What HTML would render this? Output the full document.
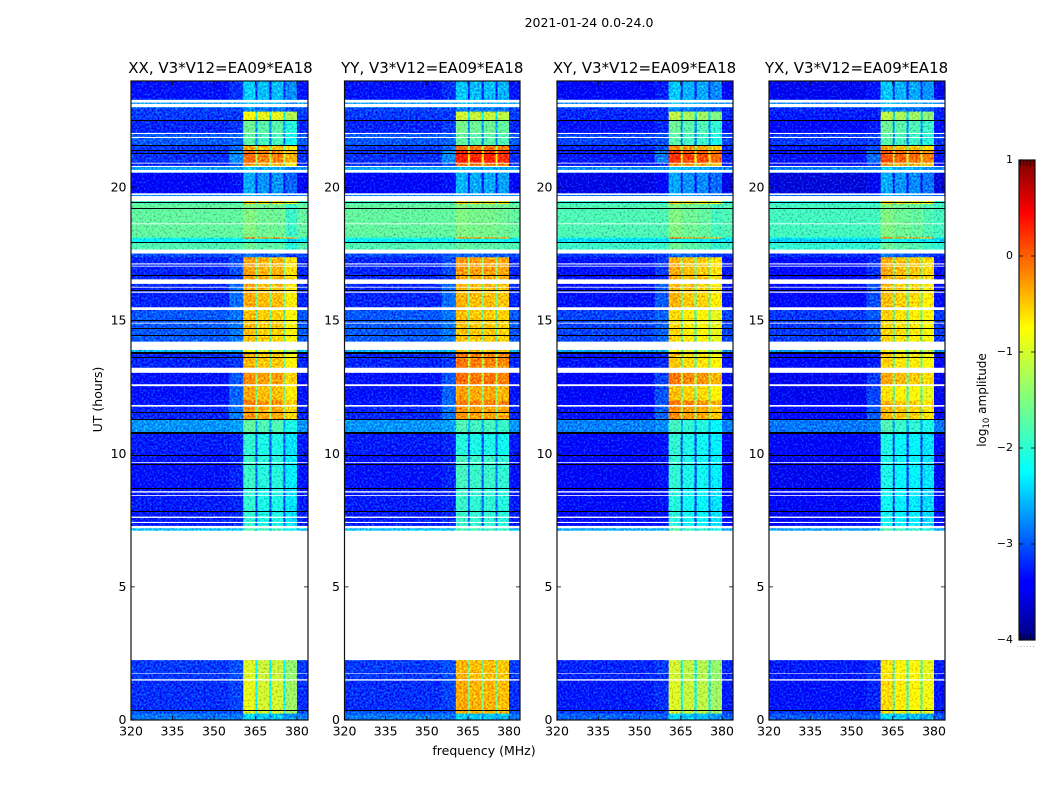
<!DOCTYPE html>
<html lang="en">
<head>
<meta charset="utf-8">
<title>2021-01-24 amplitude waterfall</title>
<style>
html,body{margin:0;padding:0;background:#fff;width:1050px;height:800px;overflow:hidden}
svg{display:block;font-family:"DejaVu Sans","Liberation Sans",sans-serif;fill:#000}
</style>
</head>
<body>
<svg id="figure" xmlns="http://www.w3.org/2000/svg" width="1050" height="800" viewBox="0 0 1050 800">
<defs>
<filter id="speckle" x="0" y="0" width="100%" height="100%" color-interpolation-filters="sRGB">
<feTurbulence type="fractalNoise" baseFrequency="0.5" numOctaves="1" seed="5" result="noise"/>
<feColorMatrix in="noise" type="matrix" values="0 0 0 0.3 0.35 0 0 0 1 0 0 0 0 0.3 0.35 0 0 0 0 1" result="grey"/>
<feComposite in="SourceGraphic" in2="grey" operator="arithmetic" k1="0" k2="1" k3="1" k4="-0.5"/>
</filter>
<linearGradient id="jet-gradient" x1="0" y1="1" x2="0" y2="0">
<stop offset="0" stop-color="#00007f"/><stop offset="0.11" stop-color="#0000ff"/><stop offset="0.125" stop-color="#0000ff"/>
<stop offset="0.35" stop-color="#00ffff"/><stop offset="0.5" stop-color="#7fff7f"/><stop offset="0.65" stop-color="#ffff00"/>
<stop offset="0.89" stop-color="#ff0000"/><stop offset="1" stop-color="#7f0000"/>
</linearGradient>
</defs>
<text x="589" y="27" font-size="12.5" text-anchor="middle">2021-01-24 0.0-24.0</text>
<text x="484" y="755" font-size="12.5" text-anchor="middle">frequency (MHz)</text>
<text transform="translate(102,399.5) rotate(-90)" font-size="12.5" text-anchor="middle">UT (hours)</text>
<g id="panels"></g>
<g id="colorbar">
<rect x="1019" y="160" width="16" height="480" fill="url(#jet-gradient)" stroke="#111" stroke-width="1.2"/>
<text transform="translate(986,400) rotate(-90)" font-size="12" text-anchor="middle">log<tspan font-size="8.5" dy="3">10</tspan><tspan dy="-3"> amplitude</tspan></text>
<text x="1026" y="647" font-size="8" fill="#999" text-anchor="middle" letter-spacing="0.6">......</text>
</g>
</svg>
<script>
// Panel names
const panelTitles = ["XX, V3*V12=EA09*EA18", "YY, V3*V12=EA09*EA18", "XY, V3*V12=EA09*EA18", "YX, V3*V12=EA09*EA18"];

// Axis ticks
const freqTicks = [320, 335, 350, 365, 380];
const utTicks = [0, 5, 10, 15, 20];
const colorTicks = [-4, -3, -2, -1, 0, 1];
const colorTickLabels = ["\u22124", "\u22123", "\u22122", "\u22121", "0", "1"];

// Frequency column edges in MHz: background, background, shoulder, then 4 spectral windows with gaps, background
const freqEdges = [320, 336, 355.5, 360.6, 365, 365.7, 370, 370.8, 375.1, 375.8, 380, 384];

// UT band edges in hours (descending); each band spans edges i..i+1
const utEdges = [24, 23.3, 23, 22.85, 22.54, 22.05, 21.56, 21.38, 20.93, 20.81, 20.55, 19.78, 19.49, 19.38, 18.13, 18.08, 17.94, 17.67, 17.38, 16.69, 16.38, 15.5, 14.21, 13.77, 13.04, 12.6, 12, 11.77, 11.28, 10.79, 9.93, 8.68, 7.2, 2.25, 1.5, 0.36, 0.24, 0];

// log10 amplitude per UT band
const background = [-3.2, -2.5, -2.95, -3, -3.1, -2.85, -3, -3.05, -3.1, -2.5, -3.3, -2.6, -1.7, -1.55, -1.8, -2.1, -1.65, -2.9, -3.1, -3.1, -3.1, -2.85, -2.4, -3.1, -3.2, -3.2, -3.15, -3.1, -2.55, -3.15, -3.2, -3.15, -2.3, -3, -3.05, -2.9, -2.7];
const shoulder = [-3.05, -2.5, -2.95, -3, -3, -2.8, -2.8, -2.6, -2.9, -2.5, -3.2, -2.6, -1.7, -1.55, -1.8, -2.1, -1.65, -2.9, -2.9, -3, -2.75, -2.7, -2.4, -3, -2.85, -2.8, -2.75, -2.7, -2.5, -3.1, -3.1, -3.1, -2.3, -2.9, -2.95, -2.9, -2.7];
const spwXX = [-2.45, -2.5, -2.8, -1, -1.7, -1.8, -0.55, -0.25, -0.5, -2.5, -2.65, -2.6, -0.7, -1.6, -0.3, -2.1, -1.7, -2.9, -0.5, -0.5, -0.55, -0.65, -1, -0.6, -0.4, -0.55, -0.35, -0.45, -1.75, -2, -1.95, -2, -1.8, -1.15, -1.1, -1.1, -2.4];
const spwYY = [-2.45, -2.5, -2.8, -1.15, -1.6, -1.7, -0.2, 0.2, -0.2, -2.5, -2.55, -2.6, -0.7, -1.55, -0.3, -2.1, -1.7, -2.9, -0.4, -0.45, -0.55, -0.6, -0.6, -0.25, -0.2, -0.45, -0.25, -0.4, -1.8, -2, -1.85, -1.9, -1.8, -0.55, -0.5, -0.5, -2.4];
const spwXY = [-2.5, -2.5, -2.8, -1.3, -1.7, -1.8, -0.4, 0.05, -0.4, -2.5, -2.65, -2.6, -0.7, -1.6, -0.3, -2.1, -1.7, -2.9, -0.55, -0.55, -0.6, -0.8, -1, -0.7, -0.3, -0.65, -0.3, -0.4, -1.9, -2, -2, -2.05, -1.8, -1.2, -1.15, -1.15, -2.4];
const spwYX = [-2.5, -2.5, -2.8, -1.3, -1.7, -1.8, -0.55, -0.1, -0.45, -2.5, -2.65, -2.6, -0.7, -1.6, -0.3, -2.1, -1.7, -2.9, -0.55, -0.55, -0.65, -0.75, -1, -0.75, -0.55, -0.85, -0.6, -0.6, -1.85, -2.1, -2.1, -2.15, -1.8, -0.85, -0.8, -0.8, -2.4];

// Offsets per panel
const panelBackgroundOffset = [-0.1, -0.1, -0.2, -0.25];
const panelTitleNudge = [1, 0, -0.5, -0.5];
const windowTiltXX = [0.1, 0, 0, -0.25];
const windowTiltYY = [0.05, 0, 0, -0.05];
const windowTiltXY = [0.1, 0, -0.05, -0.2];
const windowTiltYX = [0.1, 0, -0.05, -0.15];
const gapDrop = 1;

// Flagged (white) UT intervals in hours
const flagStart = [23.29, 23.14, 22.05, 21.9, 20.93, 20.81, 20.66, 19.78, 19.68, 18.65, 17.67, 17.15, 17.06, 16.55, 16.27, 16.09, 15.5, 14.92, 14.21, 13.23, 12.61, 11.83, 9.68, 8.6, 8.55, 8.45, 7.64, 7.44, 7.29, 7.11, 1.75, 1.53];
const flagEnd = [23.19, 23.02, 22.01, 21.86, 20.9, 20.77, 20.56, 19.72, 19.49, 18.62, 17.52, 17.11, 17.03, 16.38, 16.24, 16.05, 15.4, 14.89, 13.9, 13.04, 12.54, 11.77, 9.65, 8.57, 8.53, 8.42, 7.59, 7.4, 7.2, 2.25, 1.73, 1.48];

// Zero-amplitude (black) UT lines in hours
const blackLines = [22.535, 21.56, 21.38, 21.27, 19.44, 19.22, 17.94, 16.69, 16.15, 15, 14.71, 14.46, 13.77, 13.62, 11.55, 11.28, 10.79, 9.93, 9.58, 8.68, 7.82, 0.36];
const blackWidths = [1, 1, 1, 1, 1, 1, 1, 1, 1, 1, 1, 1, 2, 1, 1, 1, 2, 1, 1, 1, 1, 1];

const SVG_NS = "http://www.w3.org/2000/svg";
const panelLefts = [131, 344.5, 557, 769];
const panelRights = [308, 520, 733, 945];
const plotTop = 81;
const plotBottom = 720;
const spwByPanel = [spwXX, spwYY, spwXY, spwYX];
const tiltByPanel = [windowTiltXX, windowTiltYY, windowTiltXY, windowTiltYX];

function make(tag, attrs, parent) {
  const el = document.createElementNS(SVG_NS, tag);
  for (const k in attrs) el.setAttribute(k, attrs[k]);
  parent.appendChild(el);
  return el;
}
function yScale(h) { return plotBottom - (h / 24) * (plotBottom - plotTop); }
function xScale(p, f) { return panelLefts[p] + ((f - 320) / 64) * (panelRights[p] - panelLefts[p]); }
function clip01(v) { return Math.max(0, Math.min(1, v)); }
function jet(v) {
  const t = clip01((v + 4) / 5);
  const r = clip01(Math.min(4 * t - 1.5, -4 * t + 4.5));
  const g = clip01(Math.min(4 * t - 0.5, -4 * t + 3.5));
  const b = clip01(Math.min(4 * t + 0.5, -4 * t + 2.5));
  return "rgb(" + Math.round(r * 255) + "," + Math.round(g * 255) + "," + Math.round(b * 255) + ")";
}
function columnValue(p, band, col) {
  const off = panelBackgroundOffset[p];
  if (col <= 1 || col === 10) return background[band] + off;
  if (col === 2) return shoulder[band] + off;
  const spw = spwByPanel[p][band];
  const w = Math.floor((col - 3) / 2);
  if ((col - 3) % 2 === 0) return spw + tiltByPanel[p][w];
  return Math.max(background[band], spw - gapDrop);
}

const panelsRoot = document.getElementById("panels");
panelTitles.forEach(function (title, p) {
  const L = panelLefts[p], R = panelRights[p];
  const g = make("g", {}, panelsRoot);
  
  

  const titleEl = make("text", { x: (L + R) / 2 + panelTitleNudge[p], y: 73, "font-size": 15, "text-anchor": "middle" }, g);
  titleEl.textContent = title;
  
  

  const heat = make("g", { filter: "url(#speckle)" }, g);
  
  
  background.forEach(function (_, band) {
    const y0 = yScale(utEdges[band]), y1 = yScale(utEdges[band + 1]);
    for (let col = 0; col < freqEdges.length - 1; col++) {
      const x0 = xScale(p, freqEdges[col]), x1 = xScale(p, freqEdges[col + 1]);
      const cell = make("rect", { x: x0, y: y0, width: x1 - x0 + 0.3, height: y1 - y0 + 0.3, fill: jet(columnValue(p, band, col)) }, heat);
      
      
    }
  });

  flagStart.forEach(function (h, i) {
    const y0 = yScale(h), y1 = yScale(flagEnd[i]);
    const flag = make("rect", { x: L, y: y0, width: R - L, height: y1 - y0, fill: "#fff" }, g);
    
    
  });
  blackLines.forEach(function (h, i) {
    const line = make("rect", { x: L, y: Math.round(yScale(h) - blackWidths[i] / 2), width: R - L, height: blackWidths[i], fill: "#000" }, g);
    
    
  });

  const frame = make("rect", { x: L, y: plotTop, width: R - L, height: plotBottom - plotTop, fill: "none", stroke: "#111", "stroke-width": 1.2 }, g);
  
  

  freqTicks.forEach(function (f) {
    const x = xScale(p, f);
    const t1 = make("path", { d: "M" + x + " " + plotBottom + "v-4M" + x + " " + plotTop + "v4", stroke: "#000", "stroke-width": 0.8, fill: "none" }, g);
    
    
    const lab = make("text", { x: x, y: 735.5, "font-size": 12.5, "text-anchor": "middle" }, g);
    lab.textContent = String(f);
    
    
  });
  utTicks.forEach(function (h) {
    const y = yScale(h);
    const t2 = make("path", { d: "M" + L + " " + y + "h4M" + R + " " + y + "h-4", stroke: "#000", "stroke-width": 0.8, fill: "none" }, g);
    
    
    const lab = make("text", { x: L - 4.5, y: y + 4, "font-size": 12.5, "text-anchor": "end" }, g);
    lab.textContent = String(h);
    
    
  });
});

const cbar = document.getElementById("colorbar");
function colorY(v) { return 640 - ((v + 4) / 5) * 480; }
colorTicks.forEach(function (v, i) {
  const y = colorY(v);
  const tick = make("path", { d: "M1019 " + y + "h4M1035 " + y + "h-4", stroke: "#000", "stroke-width": 0.8, fill: "none" }, cbar);
  
  
  const lab = make("text", { x: 1013, y: y + 3, "font-size": 11, "text-anchor": "end" }, cbar);
  lab.textContent = colorTickLabels[i];
  
  
});
const minorFractions = [0.1, 0.3, 0.5, 0.7, 0.9];
minorFractions.forEach(function (f) {
  const x = 1019 + f * 16;
  const minor = make("path", { d: "M" + x + " 160v6M" + x + " 640v-6", stroke: "#000", "stroke-width": 0.7, fill: "none" }, cbar);
  
  
});
</script>
</body>
</html>
